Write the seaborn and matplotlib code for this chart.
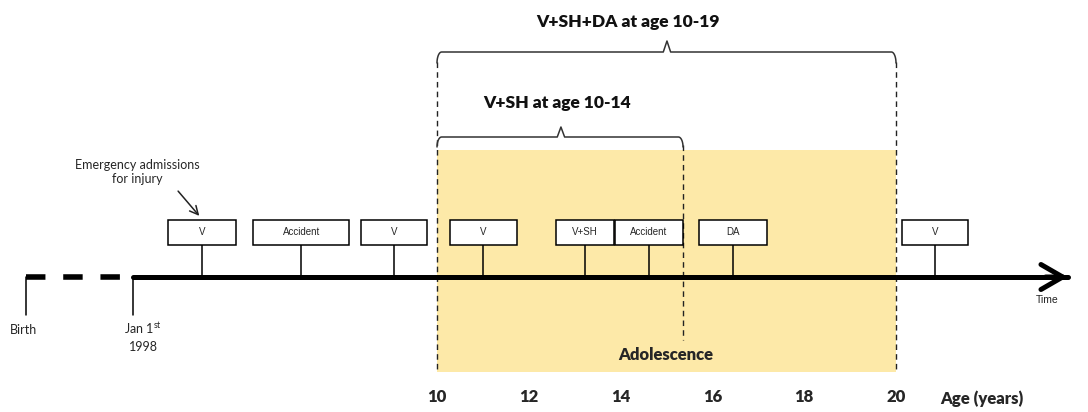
import numpy as np
import pandas as pd
import matplotlib
matplotlib.use("Agg")
import matplotlib.pyplot as plt
from matplotlib.patches import Rectangle
import seaborn as sns

# ── data ────────────────────────────────────────────────────────
event_labels = ["V", "Accident", "V", "V", "V+SH", "Accident", "DA", "V"]
event_ages = [4.88, 7.04, 9.06, 11.01, 13.22, 14.62, 16.45, 20.85]
age_ticks = [10, 12, 14, 16, 18, 20]
birth_age = 1.05
start_age = 3.38
end_age = 23.80
adol_start, adol_end = 10, 20
early_end = 15.36
brace_labels = ["V+SH+DA at age 10-19", "V+SH at age 10-14"]

# layout (pixel-like y, downward)
box_widths = [1.48, 2.09, 1.44, 1.46, 1.27, 1.50, 1.48, 1.44]
BOX_TOP, BOX_BOT = 220, 245
LINE_Y = 277

sns.set_theme(style="white")
plt.rcParams["font.family"] = ["Lato", "DejaVu Sans"]
plt.rcParams["mathtext.fontset"] = "custom"
plt.rcParams["mathtext.rm"] = "Lato"

fig = plt.figure(figsize=(10.88, 4.12), dpi=100)
ax = fig.add_axes([0, 0, 1, 1])
ax.set_xlim(0.479, 24.183)
ax.set_ylim(412, 0)
ax.axis("off")

# adolescence shading
ax.add_patch(Rectangle((adol_start, 150), adol_end - adol_start, 222,
                       facecolor="#fde9a8", edgecolor="none", zorder=0))

# dashed guides
dash = dict(color="#222222", lw=1, ls=(0, (4, 3)), zorder=1)
ax.plot([adol_start, adol_start], [62, 372], **dash)
ax.plot([adol_end, adol_end], [62, 372], **dash)
ax.plot([early_end, early_end], [145, 340], **dash)


def brace(x0, x1, xtip, y, h, r=0.1):
    t = np.linspace(0, np.pi / 2, 12)
    xs = list(x0 + r * (1 - np.cos(t)))
    ys = list(y + h * (1 - np.sin(t)))
    xs += [xtip - 0.08, xtip, xtip + 0.08]
    ys += [y, y - h, y]
    xs += list(x1 - r * (1 - np.cos(t[::-1])))
    ys += list(y + h * (1 - np.sin(t[::-1])))
    ax.plot(xs, ys, color="#333333", lw=1.1, zorder=2)


brace(adol_start, adol_end, 15.01, 52, 11)
brace(adol_start, early_end, 12.70, 137, 10)
ax.text(14.16, 22, brace_labels[0], ha="center", va="center",
        fontsize=12.5, fontweight="heavy", color="#111111")
ax.text(12.61, 103, brace_labels[1], ha="center", va="center",
        fontsize=12.5, fontweight="heavy", color="#111111")

# timeline
ax.plot([birth_age, start_age], [LINE_Y, LINE_Y], color="black", lw=4,
        ls=(0, (3.5, 3.2)), solid_capstyle="butt", zorder=3)
sns.lineplot(x=[start_age, end_age - 0.05], y=[LINE_Y, LINE_Y], color="black",
             lw=3.6, ax=ax, zorder=3)
ax.annotate("", xy=(end_age, LINE_Y), xytext=(end_age - 0.6, LINE_Y),
            arrowprops=dict(arrowstyle="->,head_length=1.3,head_width=0.75",
                            lw=3.6, color="black"), zorder=3)
ax.text(23.3, 300, "Time", fontsize=7.5, family="Liberation Sans",
        ha="center", va="center", color="#222222")

# start ticks
for a in (birth_age, start_age):
    ax.plot([a, a], [LINE_Y, 315], color="black", lw=1.1, zorder=3)
ax.text(birth_age - 0.05, 330, "Birth", fontsize=9, ha="center", va="center")
ax.text(start_age + 0.22, 328, r"Jan 1$^{\mathrm{st}}$", fontsize=9,
        ha="center", va="center")
ax.text(start_age + 0.22, 347, "1998", fontsize=9, ha="center", va="center")

# events
events = pd.DataFrame({"label": event_labels, "age": event_ages, "w": box_widths})
for _, ev in events.iterrows():
    ax.plot([ev.age, ev.age], [BOX_BOT, LINE_Y], color="black", lw=1.1, zorder=2)
    ax.add_patch(Rectangle((ev.age - ev.w / 2, BOX_TOP), ev.w, BOX_BOT - BOX_TOP,
                           facecolor="white", edgecolor="black", lw=1.1, zorder=4))
    ax.text(ev.age, (BOX_TOP + BOX_BOT) / 2 - 1, ev.label, fontsize=7,
            family="Liberation Sans", ha="center", va="center", zorder=5)

# annotation
ax.text(3.46, 172, "Emergency admissions\nfor injury", fontsize=9,
        ha="center", va="center", linespacing=1.2)
ax.annotate("", xy=(4.86, 218), xytext=(4.32, 189),
            arrowprops=dict(arrowstyle="->,head_length=0.5,head_width=0.25",
                            lw=1.1, color="#222222"))

# age axis labels
for a in age_ticks:
    ax.text(a, 397, str(a), fontsize=12, fontweight="heavy",
            ha="center", va="center")
ax.text(21.87, 399, "Age (years)", fontsize=12, fontweight="heavy",
        ha="center", va="center")
ax.text(14.99, 355, "Adolescence", fontsize=12, fontweight="heavy",
        ha="center", va="center")

fig.savefig("out.png", dpi=100)
